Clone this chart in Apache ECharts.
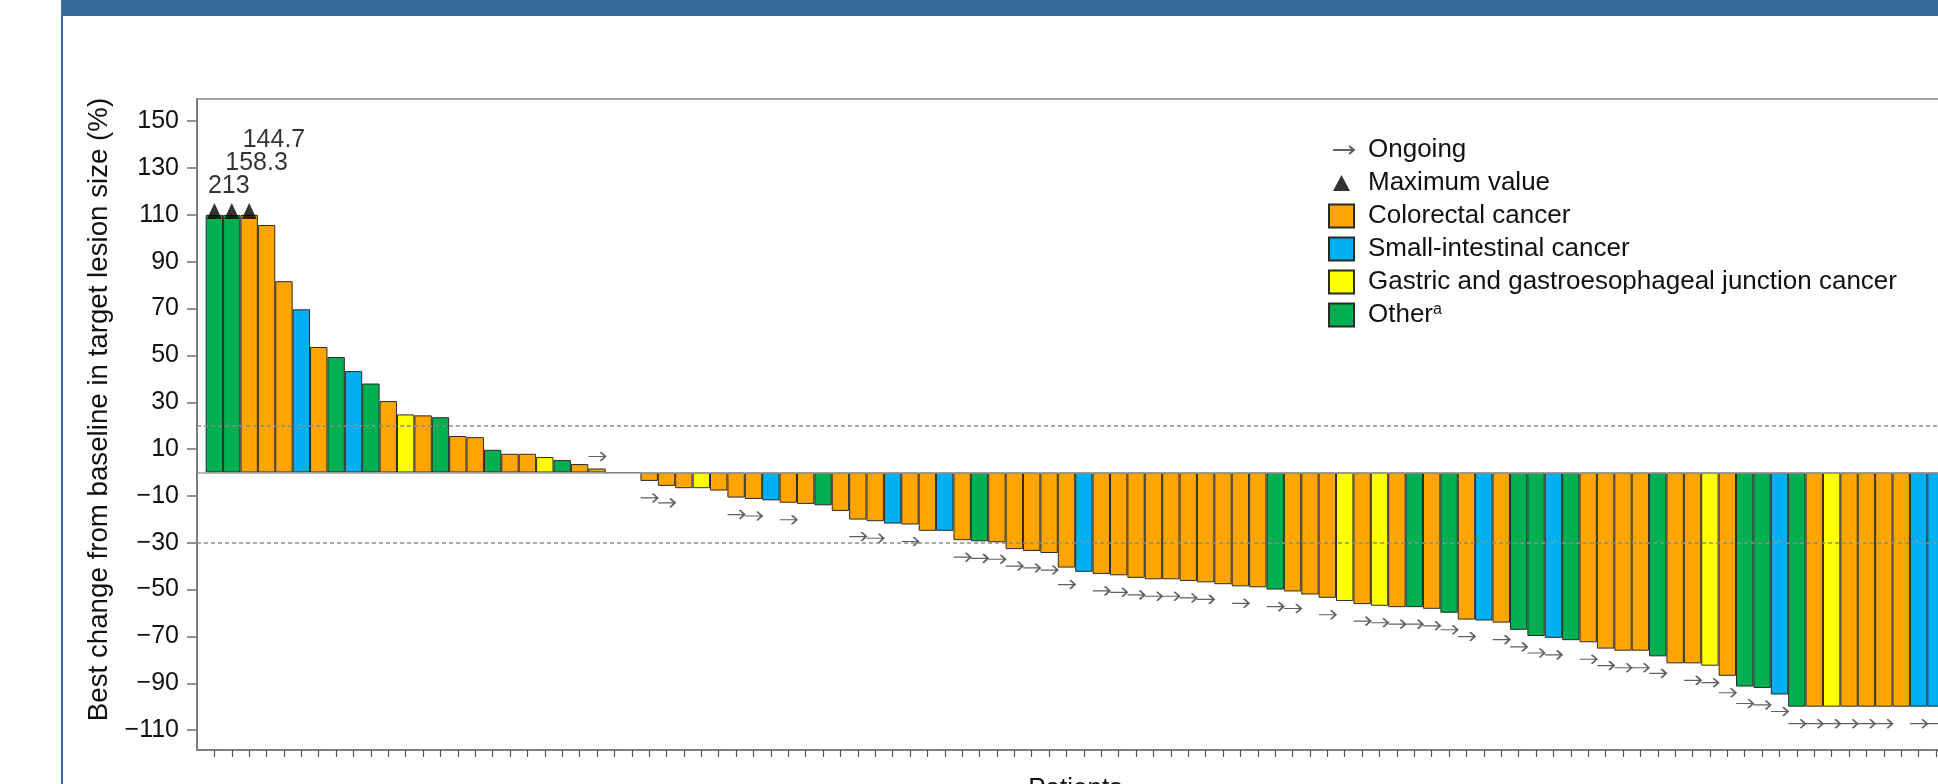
<!DOCTYPE html>
<html>
<head>
<meta charset="utf-8">
<title>Best change from baseline</title>
<script src="https://cdn.jsdelivr.net/npm/echarts@6/dist/echarts.min.js"></script>
<style>
  html, body { margin: 0; padding: 0; background: #fff; }
  #main { width: 1938px; height: 784px; }
</style>
</head>
<body>
<div id="main"></div>
<script>
// best change from baseline per patient (%), in plotted order
var changeValues = [213, 158.3, 144.7, 105.7, 81.7, 69.7, 53.6, 49.3, 43.3, 38.0,
    30.5, 24.8, 24.4, 23.6, 15.6, 15.1, 9.7, 8.0, 8.0, 6.6,
    5.3, 3.6, 1.7, 0, 0, -3.6, -5.7, -6.7, -6.7, -7.7,
    -10.7, -11.3, -11.9, -12.9, -13.4, -14.0, -16.4, -20.1, -20.8, -21.8,
    -22.2, -24.9, -24.9, -28.9, -29.4, -29.8, -32.7, -33.5, -34.4, -40.6,
    -42.4, -43.3, -43.9, -45.0, -45.6, -45.6, -46.3, -46.9, -47.7, -48.6,
    -49.0, -50.0, -50.8, -52.1, -53.5, -54.9, -56.2, -56.9, -57.5, -57.5,
    -58.2, -59.9, -62.8, -63.2, -64.1, -67.2, -69.8, -70.6, -71.6, -72.5,
    -75.2, -76.1, -76.1, -78.5, -81.5, -81.5, -82.5, -86.8, -91.4, -92.0,
    -94.8, -100, -100, -100, -100, -100, -100, -100, -100, -100];

// C colorectal, S small-intestinal, G gastric/GEJ, O other
var cancerType = ['O','O','C','C','C','S','C','O','S','O',
    'C','G','C','O','C','C','O','C','C','G',
    'O','C','C','C','C','C','C','C','G','C',
    'C','C','S','C','C','O','C','C','C','S',
    'C','C','S','C','O','C','C','C','C','C',
    'S','C','C','C','C','C','C','C','C','C',
    'C','O','C','C','C','G','C','G','C','O',
    'C','O','C','S','C','O','O','S','O','C',
    'C','C','C','O','C','C','G','C','O','O',
    'S','O','C','G','C','C','C','C','S','S'];

// patients with ongoing treatment (arrow)
var ongoingPatients = [23, 26, 27, 31, 32, 34, 38, 39, 41, 44, 45, 46, 47, 48, 49, 50,
    52, 53, 54, 55, 56, 57, 58, 60, 62, 63, 65, 67, 68, 69, 70, 71, 72, 73, 75, 76,
    77, 78, 80, 81, 82, 83, 84, 86, 87, 88, 89, 90, 91, 92, 93, 94, 95, 96, 97, 99, 100];

var yTicks = [-110, -90, -70, -50, -30, -10, 10, 30, 50, 70, 90, 110, 130, 150];
var refLines = [20, -30];
var cutOff = 110;

var typeCodes = ['C', 'S', 'G', 'O'];
var typeNames = {C: 'Colorectal cancer', S: 'Small-intestinal cancer', G: 'Gastric and gastroesophageal junction cancer', O: 'Other'};
var typeColors = {C: '#ffa500', S: '#00b0f0', G: '#ffff00', O: '#00b050'};

var FONT = 'Liberation Sans, Arial, Helvetica, sans-serif';
var PITCH = 17.39;
var ARROW = 'path://M0,5L17,5M12,1L17,5L12,9';

function barSeries(code) {
    var data = [];
    for (var i = 0; i < changeValues.length; i++) {
        if (cancerType[i] == code) {
            data.push([i + 1, Math.min(changeValues[i], cutOff)]);
        }
    }
    return {
        name: typeNames[code],
        type: 'bar',
        data: data,
        barWidth: PITCH,
        barGap: '-100%',
        itemStyle: {color: typeColors[code], borderColor: '#2a2a2a', borderWidth: 1},
        z: 2
    };
}

function maxSeries() {
    var data = [];
    var k = 0;
    for (var i = 0; i < changeValues.length; i++) {
        if (changeValues[i] > cutOff) {
            data.push({value: [i + 1, cutOff], label: {position: [1, -4 - k * 23.4]}});
            k++;
        }
    }
    return {
        name: 'Maximum value',
        type: 'scatter',
        data: data,
        symbol: 'triangle',
        symbolSize: [15, 16],
        symbolOffset: [0, -4],
        itemStyle: {color: '#000'},
        label: {
            show: true,
            align: 'left',
            verticalAlign: 'bottom',
            fontFamily: FONT,
            fontSize: 25,
            color: '#000',
            formatter: function (p) {
                return String(changeValues[p.value[0] - 1]);
            }
        },
        z: 4
    };
}

function ongoingSeries() {
    var data = [];
    for (var i = 0; i < ongoingPatients.length; i++) {
        var v = changeValues[ongoingPatients[i] - 1];
        data.push({value: [ongoingPatients[i], v], symbolOffset: v > 0 ? [0, -12] : [0, 17]});
    }
    return {
        name: 'Ongoing',
        type: 'scatter',
        data: data,
        symbol: ARROW,
        symbolSize: [17, 9],
        itemStyle: {color: 'rgba(0,0,0,0)', borderColor: '#383838', borderWidth: 1.6},
        z: 4
    };
}

var series = [];
for (var t = 0; t < typeCodes.length; t++) {
    series.push(barSeries(typeCodes[t]));
}
var refData = [];
for (var r = 0; r < refLines.length; r++) {
    refData.push({yAxis: refLines[r]});
}
refData.push({yAxis: 0, lineStyle: {type: 'solid', color: '#a29d98', width: 1.5}});
series[0].markLine = {
    silent: true,
    symbol: ['none', 'none'],
    label: {show: false},
    lineStyle: {type: [4, 3], color: '#8c8c8c', width: 1.5},
    data: refData
};
series.push(maxSeries());
series.push(ongoingSeries());

var xTicks = [];
for (var n = 1; n <= changeValues.length; n++) xTicks.push(n);

var legendItems = [
    {name: 'Ongoing', icon: 'path://M0,0M25,23M4,11.5L25,11.5M20,7.5L25,11.5L20,15.5'},
    {name: 'Maximum value', icon: 'path://M0,0M25,23M4,19.5L12.5,3.5L21,19.5Z'}
];
for (var q = 0; q < typeCodes.length; q++) {
    legendItems.push({name: typeNames[typeCodes[q]], icon: 'rect'});
}

var chart = echarts.init(document.getElementById('main'));
chart.setOption({
    animation: false,
    backgroundColor: '#fff',
    graphic: [
        {type: 'rect', left: 62, top: 0, shape: {width: 1876, height: 16}, style: {fill: '#34679a'}},
        {type: 'rect', left: 61, top: 0, shape: {width: 2, height: 784}, style: {fill: '#3a6ea5'}}
    ],
    legend: {
        orient: 'vertical',
        left: 1323,
        top: 132,
        itemWidth: 25,
        itemHeight: 23,
        itemGap: 7,
        selectedMode: false,
        data: legendItems,
        formatter: function (name) {
            return name == 'Other' ? 'Other{sup|a}' : name;
        },
        textStyle: {
            fontFamily: FONT,
            fontSize: 26,
            color: '#111',
            padding: [0, 0, 0, 9],
            rich: {sup: {fontFamily: FONT, fontSize: 16, color: '#111', verticalAlign: 'top', padding: [0, 0, 8, 0]}}
        }
    },
    grid: {
        left: 197,
        top: 99,
        width: 101 * PITCH,
        height: 651,
        show: true,
        borderColor: '#888',
        borderWidth: 1.5,
        containLabel: false,
        outerBoundsMode: 'none'
    },
    xAxis: {
        type: 'value',
        min: 0,
        max: 101,
        name: 'Patients',
        nameLocation: 'middle',
        nameGap: 26,
        nameTextStyle: {fontFamily: FONT, fontSize: 26, color: '#111'},
        axisLine: {show: true, onZero: false, lineStyle: {color: '#808080', width: 2}},
        axisTick: {show: true, length: 7, customValues: xTicks, lineStyle: {color: '#555', width: 1.2}},
        axisLabel: {show: false},
        splitLine: {show: false}
    },
    yAxis: {
        type: 'value',
        min: -118.5,
        max: 159.5,
        name: 'Best change from baseline in target lesion size (%)',
        nameLocation: 'middle',
        nameGap: 73,
        nameTextStyle: {fontFamily: FONT, fontSize: 27.7, color: '#111', padding: [0, 0, 0, 30]},
        axisLine: {show: true, onZero: false, lineStyle: {color: '#707070', width: 1.5}},
        axisTick: {show: true, length: 10, customValues: yTicks, lineStyle: {color: '#707070', width: 1.5}},
        axisLabel: {
            customValues: yTicks,
            margin: 18,
            fontFamily: FONT,
            fontSize: 25,
            color: '#111',
            formatter: function (v) {
                return String(v).replace('-', '\u2212');
            }
        },
        splitLine: {show: false}
    },
    series: series
});
</script>
</body>
</html>
